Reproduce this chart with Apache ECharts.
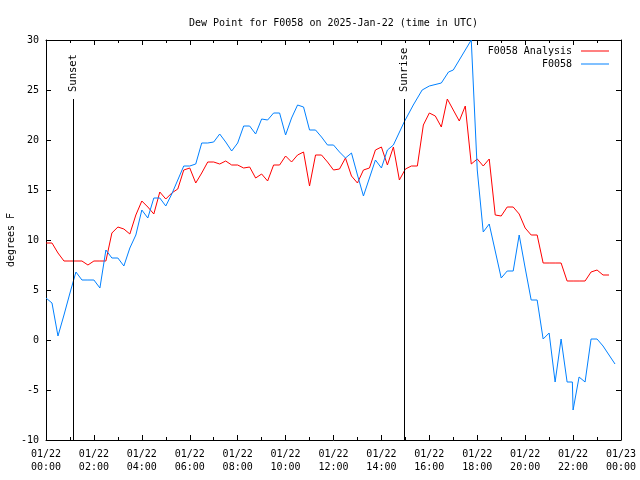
<!DOCTYPE html>
<html>
<head>
<meta charset="utf-8">
<script src="https://cdn.jsdelivr.net/npm/echarts@6/dist/echarts.min.js"></script>
<style>html,body{margin:0;padding:0;background:#fff}#c{width:640px;height:480px}</style>
</head>
<body>
<div id="c"></div>
<script>
// Hours after 01/22 00:00 UTC and dew point (°F)
const obsHours = [0,0.25,0.5,0.75,1.0,1.25,1.5,1.75,2.0,2.25,2.5,2.75,3.0,3.25,3.5,3.75,4.0,4.25,4.5,4.75,5.0,5.25,5.5,5.75,6.0,6.25,6.5,6.75,7.0,7.25,7.5,7.75,8.0,8.25,8.5,8.75,9.0,9.25,9.5,9.75,10.0,10.25,10.5,10.75,11.0,11.25,11.5,11.75,12.0,12.25,12.5,12.75,13.0,13.25,13.5,13.75,14.0,14.25,14.5,14.95,15.33,15.7,16.0,16.5,16.8,17.0,17.25,17.5,17.75,18.0,18.25,18.5,18.75,19.0,19.25,19.5,19.75,20.0,20.25,20.5,20.75,21.0,21.25,21.5,21.75,21.97,22.0,22.25,22.5,22.75,23.0,23.25,23.5,23.75];
const obsValues = [4.2,3.7,0.4,2.5,4.7,6.8,6.0,6.0,6.0,5.2,9.0,8.2,8.2,7.4,9.2,10.5,13.0,12.2,14.2,14.2,13.4,14.6,16.0,17.4,17.4,17.6,19.7,19.7,19.8,20.6,19.8,18.9,19.7,21.4,21.4,20.6,22.1,22.0,22.7,22.7,20.5,22.2,23.5,23.3,21.0,21.0,20.3,19.5,19.5,18.8,18.2,18.7,16.5,14.4,16.2,18.0,17.2,19.0,19.5,21.8,23.5,25.0,25.4,25.7,26.8,27.0,28.0,29.0,30.0,17.0,10.8,11.6,8.9,6.2,6.9,6.9,10.5,7.2,4.0,4.0,0.1,0.7,-4.2,0.1,-4.2,-4.2,-7.0,-3.7,-4.2,0.1,0.1,-0.6,-1.5,-2.4];

const anaHours = [0,0.25,0.5,0.75,1.0,1.25,1.5,1.75,2.0,2.25,2.5,2.75,3.0,3.25,3.5,3.75,4.0,4.25,4.5,4.75,5.0,5.25,5.5,5.75,6.0,6.25,6.5,6.75,7.0,7.25,7.5,7.75,8.0,8.25,8.5,8.75,9.0,9.25,9.5,9.75,10.0,10.25,10.5,10.75,11.0,11.25,11.5,11.75,12.0,12.25,12.5,12.75,13.0,13.25,13.5,13.75,14.0,14.25,14.5,14.75,15.0,15.25,15.5,15.75,16.0,16.25,16.5,16.75,17.0,17.25,17.5,17.75,18.0,18.25,18.5,18.75,19.0,19.25,19.5,19.75,20.0,20.25,20.5,20.75,21.0,21.25,21.5,21.75,22.0,22.25,22.5,22.75,23.0,23.25,23.5];
const anaValues = [9.7,9.7,8.7,7.9,7.9,7.9,7.9,7.5,7.9,7.9,7.9,10.7,11.3,11.1,10.6,12.5,13.9,13.3,12.6,14.8,14.1,14.7,15.1,17.0,17.2,15.7,16.7,17.8,17.8,17.6,17.9,17.5,17.5,17.2,17.3,16.2,16.6,15.9,17.5,17.5,18.4,17.8,18.5,18.8,15.4,18.5,18.5,17.8,17.0,17.1,18.2,16.4,15.7,17.0,17.2,19.0,19.3,17.5,19.3,16.0,17.1,17.4,17.4,21.5,22.7,22.4,21.3,24.1,23.0,21.9,23.4,17.6,18.1,17.4,18.1,12.5,12.4,13.3,13.3,12.6,11.2,10.5,10.5,7.7,7.7,7.7,7.7,5.9,5.9,5.9,5.9,6.8,7.0,6.5,6.5];

const sunsetHour = 1.13;
const sunriseHour = 14.94;
const sunMarkTop = 24.1;

const xTickHours = [0,2,4,6,8,10,12,14,16,18,20,22,24];
const yTicks = [-10,-5,0,5,10,15,20,25,30];

const FONT = 'DejaVu Sans Mono';
const chart = echarts.init(document.getElementById('c'), null, {renderer: 'canvas'});

function pairs(h, v) { return h.map((t, i) => [t, v[i]]); }
function fmtX(v) {
  if (v >= 24) return '01/23\n00:00';
  const hh = String(Math.round(v)).padStart(2, '0');
  return '01/22\n' + hh + ':00';
}
function sunMark(h, name) {
  return [
    [{coord: [h, -10], lineStyle: {color: '#000', width: 1, type: 'solid'}, label: {show: false}},
     {coord: [h, sunMarkTop]}],
    [{coord: [h, sunMarkTop], lineStyle: {color: 'rgba(0,0,0,0)', width: 1, opacity: 1},
      label: {show: true, formatter: name, position: 'insideStart', distance: 7, color: '#000', opacity: 1, fontFamily: FONT, fontSize: 10.5}},
     {coord: [h, 30]}]
  ];
}

const axisCommon = {
  axisLine: {onZero: false, lineStyle: {color: '#000', width: 1}},
  axisTick: {inside: true, length: 5, lineStyle: {color: '#000'}},
  splitLine: {show: false}
};

chart.setOption({
  animation: false,
  backgroundColor: '#fff',
  title: {
    text: 'Dew Point for F0058 on 2025-Jan-22 (time in UTC)',
    left: 184, top: 13,
    textStyle: {fontFamily: FONT, fontSize: 10, fontWeight: 'normal', color: '#000'}
  },
  legend: [
    {data: ['F0058 Analysis'], right: 26, top: 41, align: 'right', icon: 'rect', itemWidth: 28, itemHeight: 1, itemGap: 0,
     textStyle: {fontFamily: FONT, fontSize: 10, color: '#000', padding: [0, 4, 0, 0]}},
    {data: ['F0058'], right: 26, top: 54, align: 'right', icon: 'rect', itemWidth: 28, itemHeight: 1, itemGap: 0,
     textStyle: {fontFamily: FONT, fontSize: 10, color: '#000', padding: [0, 4, 0, 0]}}
  ],
  grid: {left: 46, right: 19, top: 40, bottom: 40, containLabel: false, outerBoundsMode: 'none'},
  xAxis: [
    Object.assign({}, axisCommon, {
      type: 'value', min: 0, max: 24, interval: 2, position: 'bottom',
      minorTick: {show: true, splitNumber: 2, length: 3, lineStyle: {color: '#000'}},
      axisLabel: {formatter: fmtX, fontFamily: FONT, fontSize: 10, color: '#000', margin: 8, lineHeight: 13,
        customValues: xTickHours}
    }),
    Object.assign({}, axisCommon, {
      type: 'value', min: 0, max: 24, interval: 2, position: 'top',
      minorTick: {show: true, splitNumber: 2, length: 3, lineStyle: {color: '#000'}},
      axisLabel: {show: false}
    })
  ],
  yAxis: [
    Object.assign({}, axisCommon, {
      type: 'value', min: -10, max: 30, interval: 5, position: 'left',
      name: 'degrees F', nameLocation: 'middle', nameGap: 30, nameRotate: 90, nameMoveOverlap: false,
      nameTextStyle: {fontFamily: FONT, fontSize: 10, color: '#000'},
      axisLabel: {fontFamily: FONT, fontSize: 10, color: '#000', margin: 7}
    }),
    Object.assign({}, axisCommon, {
      type: 'value', min: -10, max: 30, interval: 5, position: 'right',
      axisLabel: {show: false}
    })
  ],
  series: [
    {
      name: 'F0058 Analysis', type: 'line', data: pairs(anaHours, anaValues),
      showSymbol: false, symbol: 'none', color: '#ff0000',
      lineStyle: {width: 1, color: '#ff0000'},
      markLine: {silent: true, symbol: 'none', animation: false,
        data: sunMark(sunsetHour, 'Sunset').concat(sunMark(sunriseHour, 'Sunrise'))}
    },
    {
      name: 'F0058', type: 'line', data: pairs(obsHours, obsValues),
      showSymbol: false, symbol: 'none', color: '#0080ff',
      lineStyle: {width: 1, color: '#0080ff'}
    }
  ]
});
</script>
</body>
</html>
